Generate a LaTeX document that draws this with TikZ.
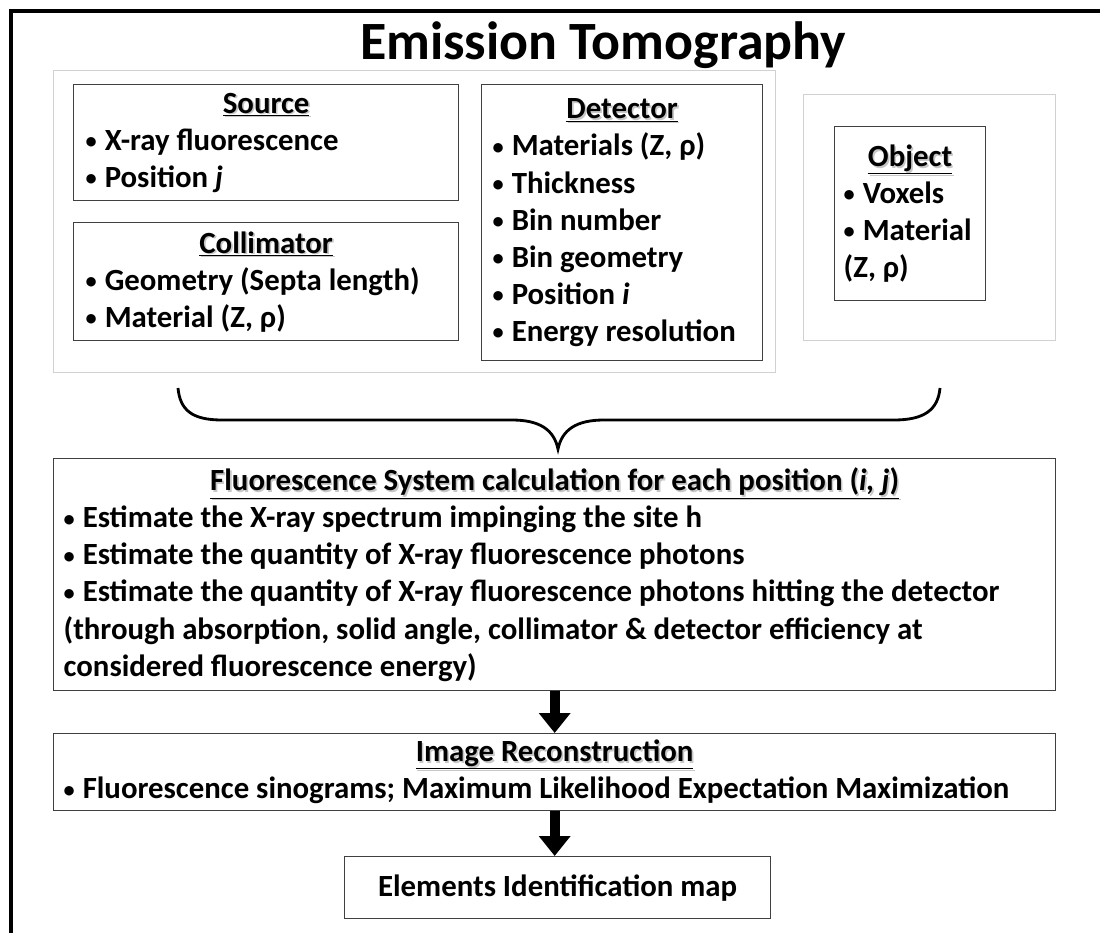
\documentclass[tikz,border=0pt]{standalone}
\usepackage{fontspec}
\setmainfont{Carlito}
\usetikzlibrary{arrows.meta, positioning}
\tikzset{
    infobox/.style={draw=black!75, line width=1.1pt, rectangle, anchor=north west, align=left,
        font=\fontsize{26.3}{31.6}\selectfont\bfseries},
    grayframe/.style={draw=black!18, line width=0.8pt},
    frameline/.style={line width=3.4pt, line cap=rect},
    bracepath/.style={line width=2.4pt},
    blockarrow/.style={line width=8.5pt, -{Triangle[width=26pt, length=17pt]}},
}
% natural word spaces (align=left widens them)
\newcommand{\natsp}{\spaceskip=0pt\xspaceskip=0pt}
\newcommand{\boxhead}[1]{\natsp\makebox[\linewidth]{\rlap{\hspace{1.4pt}\raisebox{-1.4pt}{\color{black!22}\underline{#1}}}\underline{#1}}}
\newcommand{\bul}{\makebox[0.62em][l]{\raisebox{0.06em}{\fontsize{19}{19}\selectfont •}}}

\begin{document}
\begin{tikzpicture}[x=0.03cm, y=-0.03cm]
    \useasboundingbox (0,0) rectangle (1100,933);

    % outer frame (top and left side)
    \draw[frameline] (11,933) -- (11,11) -- (1100,11);
    \node[font=\fontsize{46}{54}\selectfont\bfseries] (title) at (603,45) {Emission Tomography};

    \draw[grayframe] (53,70) rectangle (775,372);
    \draw[grayframe] (803,94) rectangle (1055,340);

    \node[infobox, minimum width=11.55cm, minimum height=3.48cm, inner xsep=0.36cm, text width=10.83cm] (src) at (73,84)
        {\boxhead{Source}\\ \bul X-ray fluorescence\\ \bul Position \textit{j}};
    \node[infobox, minimum width=11.55cm, minimum height=3.54cm, inner xsep=0.36cm, text width=10.83cm] (coll) at (73,222)
        {\boxhead{Collimator}\\ \bul Geometry (Septa length)\\ \bul Material (Z, ρ)};
    \node[infobox, minimum width=8.43cm, minimum height=8.28cm, inner xsep=0.33cm, text width=7.77cm] (det) at (481,84)
        {\boxhead{Detector}\\ \bul Materials (Z, ρ)\\ \bul Thickness\\ \bul Bin number\\
         \bul Bin geometry\\ \bul Position \textit{i}\\ \bul Energy resolution};
    \node[infobox, minimum width=4.53cm, minimum height=5.22cm, inner xsep=0.27cm, text width=3.99cm] (obj) at (834,126)
        {\boxhead{Object}\\ \bul Voxels\\ \bul Material\\ (Z, ρ)};

    \draw[bracepath] (178,388) .. controls (180,410) and (192,420) .. (222,420) -- (512,420)
        .. controls (540,420) and (554,430) .. (558,449) .. controls (562,430) and (576,420) .. (604,420)
        -- (894,420) .. controls (924,420) and (938,410) .. (940,388);

    \node[infobox, minimum width=30.06cm, minimum height=6.96cm, inner xsep=0.3cm, text width=29.46cm] (fluo) at (53,458)
        {\boxhead{Fluorescence System calculation for each position (\textit{i, j})}\\
         \bul Estimate the X-ray spectrum impinging the site h\\
         \bul Estimate the quantity of X-ray fluorescence photons\\
         \bul Estimate the quantity of X-ray fluorescence photons hitting the detector\\
         (through absorption, solid angle, collimator \& detector efficiency at\\
         considered fluorescence energy)};
    \node[infobox, minimum width=30.06cm, minimum height=2.31cm, inner xsep=0.3cm, text width=29.46cm] (recon) at (53,733)
        {\boxhead{Image Reconstruction}\\
         \bul Fluorescence sinograms; Maximum Likelihood Expectation Maximization};
    \node[infobox, minimum width=12.78cm, minimum height=1.86cm, align=center] (elem) at (344,856)
        {\natsp Elements Identification map};

    \draw[blockarrow] (fluo.south) -- (recon.north);
    \draw[blockarrow] (recon.south) -- (recon.south |- elem.north);
\end{tikzpicture}
\end{document}
